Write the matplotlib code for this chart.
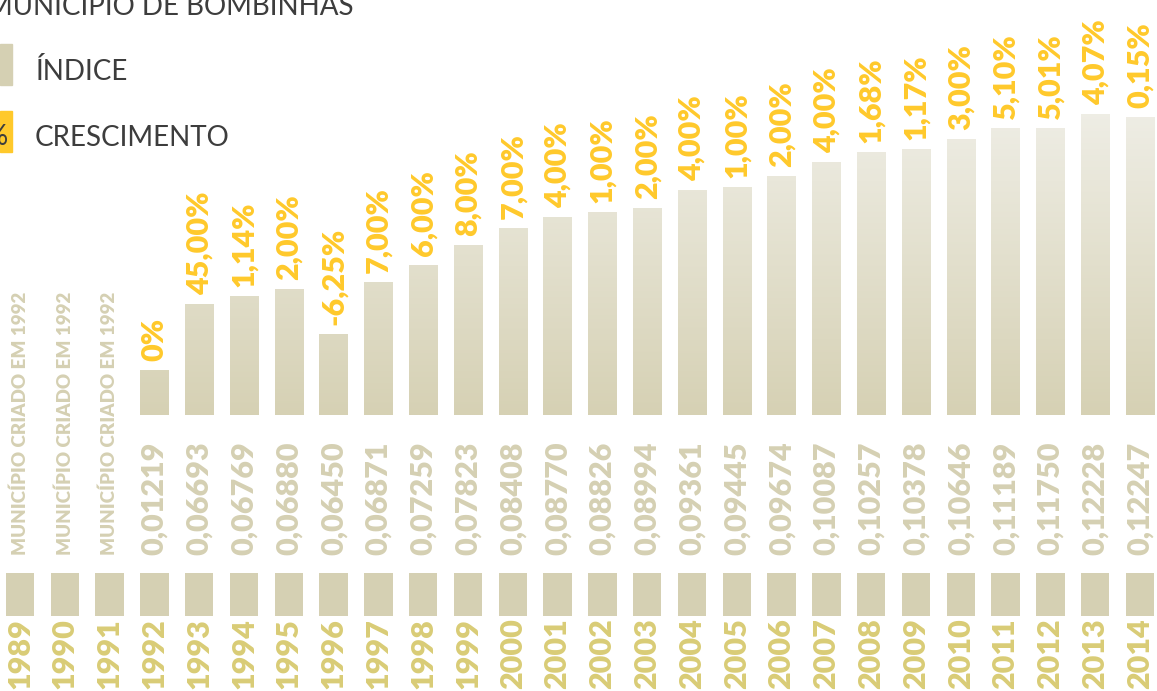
import matplotlib
matplotlib.use("Agg")
import matplotlib.pyplot as plt
import numpy as np
from matplotlib.colors import LinearSegmentedColormap

# Data ###################################################
anos = [1989, 1990, 1991, 1992, 1993, 1994, 1995, 1996, 1997, 1998, 1999, 2000,
        2001, 2002, 2003, 2004, 2005, 2006, 2007, 2008, 2009, 2010, 2011, 2012,
        2013, 2014]
indice = [None, None, None, "0,01219", "0,06693", "0,06769", "0,06880", "0,06450",
          "0,06871", "0,07259", "0,07823", "0,08408", "0,08770", "0,08826",
          "0,08994", "0,09361", "0,09445", "0,09674", "0,10087", "0,10257",
          "0,10378", "0,10646", "0,11189", "0,11750", "0,12228", "0,12247"]
crescimento = [None, None, None, "0%", "45,00%", "1,14%", "2,00%", "-6,25%",
               "7,00%", "6,00%", "8,00%", "7,00%", "4,00%", "1,00%", "2,00%",
               "4,00%", "1,00%", "2,00%", "4,00%", "1,68%", "1,17%", "3,00%",
               "5,10%", "5,01%", "4,07%", "0,15%"]
# bar height as drawn in the original (not proportional to the index)
altura = [0, 0, 0, 45, 111, 119, 126, 81, 133, 150, 170, 187, 198, 203, 207,
          225, 228, 239, 253, 263, 266, 276, 287, 287, 301, 298]
sem_dado = "MUNICÍPIO CRIADO EM 1992"

# Colors #################################################
tan = "#d5d0b3"
gold = "#d9cc76"
yellow = "#ffc92b"
grey = "#3d3d3d"
cmap = LinearSegmentedColormap.from_list("bar", ["#d6d1b4", "#efeee6"])

fam = ["Lato", "DejaVu Sans"]

fig = plt.figure(figsize=(11.57, 6.91), dpi=100)
ax = fig.add_axes([0, 0, 1, 1])
ax.set_xlim(-20 / 44.8, (1157 - 20) / 44.8)
ax.set_ylim(-276, 415)
ax.axis("off")

w = 0.63
x = np.arange(len(anos))

for i in x:
    h = altura[i]
    if h > 0:
        grad = np.linspace(0, h, 200).reshape(-1, 1)
        ax.imshow(grad, cmap=cmap, vmin=0, vmax=310, origin="lower",
                  extent=[i - w / 2, i + w / 2, 0, h], aspect="auto", zorder=1)
        ax.text(i, h + 9, crescimento[i], rotation=90, ha="center", va="bottom",
                color=yellow, fontsize=22, fontweight="heavy", family=fam)
        ax.text(i, -140, indice[i], rotation=90, ha="center", va="bottom",
                color=tan, fontsize=22, fontweight="heavy", family=fam)
    else:
        ax.text(i, -140, sem_dado, rotation=90, ha="center", va="bottom",
                color=tan, fontsize=13.5, fontweight="heavy", family=fam)
    # small square under each year
    ax.bar(i, 43, bottom=-201, width=w, color=tan, zorder=1)
    ax.text(i, -274, str(anos[i]), rotation=90, ha="center", va="bottom",
            color=gold, fontsize=22, fontweight="heavy", family=fam)

# Title and legend #######################################
fig.text(-13 / 1157, 1 - 15 / 691, "MUNICÍPIO DE BOMBINHAS", color=grey,
         fontsize=20, family=fam, ha="left", va="baseline")
fig.patches.append(plt.Rectangle((0, 1 - 85 / 691), 12 / 1157, 41 / 691,
                                 transform=fig.transFigure, color=tan))
fig.patches.append(plt.Rectangle((0, 1 - 152 / 691), 12 / 1157, 41 / 691,
                                 transform=fig.transFigure, color=yellow))
fig.text(-14 / 1157, 1 - 145 / 691, "%", color=grey, fontsize=20,
         family=fam, ha="left", va="baseline")
fig.text(35 / 1157, 1 - 80 / 691, "ÍNDICE", color=grey, fontsize=20,
         family=fam, ha="left", va="baseline")
fig.text(35 / 1157, 1 - 146 / 691, "CRESCIMENTO", color=grey, fontsize=20,
         family=fam, ha="left", va="baseline")

fig.savefig("out.png", dpi=100)
